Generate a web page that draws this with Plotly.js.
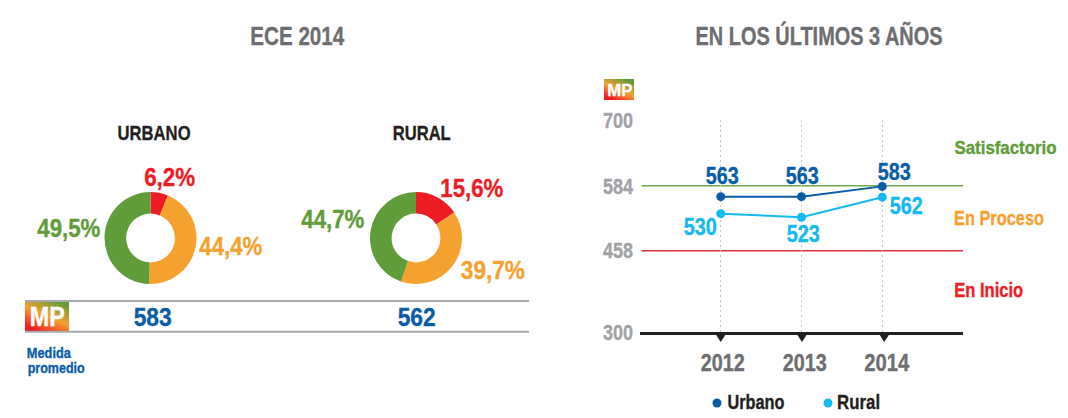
<!DOCTYPE html>
<html><head><meta charset="utf-8">
<script src="https://cdn.plot.ly/plotly-3.0.1.min.js"></script>
<style>html,body{margin:0;padding:0;background:#fff}</style></head>
<body><div id="chart" style="width:1068px;height:418px"></div>
<script>
const levels = ['En Inicio','En Proceso','Satisfactorio'];
const urbanoShare = [6.2,44.4,49.5];
const ruralShare = [15.6,39.7,44.7];
const levelColors = ['#ed1c24','#f5a130','#619c3a'];
const years = [2012,2013,2014];
const urbanoMP = [563,563,583];
const ruralMP = [530,523,562];
const yTickVals = [300,458,584,712];
const yTickText = ['300','458','584','700'];
const W=1068,H=418;
const FONT='"Liberation Sans",sans-serif';
const BLUE='#0a5ca8',CYAN='#13b9f0',GREY='#6d6e71';
const px=x=>x/W, py=y=>1-y/H;
const GRAD='data:image/svg+xml;utf8,'+encodeURIComponent('<svg xmlns="http://www.w3.org/2000/svg" width="44" height="30" preserveAspectRatio="none"><defs><linearGradient id="g" x1="0.2" y1="1" x2="0.8" y2="0"><stop offset="0.05" stop-color="#ed1c24"/><stop offset="0.5" stop-color="#f5a130"/><stop offset="0.95" stop-color="#619c3a"/></linearGradient></defs><rect width="44" height="30" fill="url(#g)"/></svg>');
const fitW=[];
function t(text,x,y,size,color,w){fitW.push(w);return {text:String(text),xref:'paper',yref:'paper',x:px(x),y:py(y),xanchor:'center',yanchor:'middle',showarrow:false,font:{family:FONT,size:size,color:color,weight:700}};}
function pointAnn(x,y,c,xs,ys){fitW.push(33);return {text:String(y),x:x,y:y,xref:'x',yref:'y',xshift:xs,yshift:ys,showarrow:false,font:{family:FONT,size:23,color:c,weight:700}};}
function pie(vals,cx,cy,r){return {type:'pie',values:vals,labels:levels,marker:{colors:levelColors},sort:false,direction:'clockwise',rotation:0,hole:0.53,textinfo:'none',showlegend:false,hoverinfo:'label+value',
  domain:{x:[px(cx-r),px(cx+r)],y:[py(cy+r),py(cy-r)]}};}
const pct=v=>v.toFixed(1).replace('.',',')+'%';
const traces=[
 pie(urbanoShare,150.5,238,46),
 pie(ruralShare,416,238,46),
 {type:'scatter',mode:'lines+markers',x:years,y:urbanoMP,name:'Urbano',line:{color:BLUE,width:2},marker:{color:BLUE,size:9},showlegend:false},
 {type:'scatter',mode:'lines+markers',x:years,y:ruralMP,name:'Rural',line:{color:CYAN,width:2},marker:{color:CYAN,size:9},showlegend:false}
];
const ann=[
 t('ECE 2014',297,36,26,GREY,94),
 t('EN LOS ÚLTIMOS 3 AÑOS',818.5,36,26,GREY,247),
 t('URBANO',153.5,132,21,'#231f20',73),
 t('RURAL',422,132,21,'#231f20',58),
 t(pct(urbanoShare[0]),169.5,177,26,levelColors[0],51),
 t(pct(urbanoShare[1]),230.5,246,26,levelColors[1],63),
 t(pct(urbanoShare[2]),68.5,228,26,levelColors[2],63),
 t(pct(ruralShare[0]),471.5,188,26,levelColors[0],63),
 t(pct(ruralShare[1]),493,270,26,levelColors[1],64),
 t(pct(ruralShare[2]),332.5,219,26,levelColors[2],63),
 t('583',152,317,26,BLUE,38),
 t('562',416,317,26,BLUE,38),
 t('MP',47,316.5,27,'#ffffff',35),
 t('Medida',49,352,15,BLUE,44),
 t('promedio',55.5,367,15,BLUE,57),
 t('MP',619.5,90,17,'#ffffff',25),
 t('Satisfactorio',1005,148,18,levelColors[2],102),
 t('En Proceso',999,218,20,levelColors[1],90),
 t('En Inicio',988.5,290,20,levelColors[0],69),
 t('2012',722,362,24,GREY,44),
 t('2013',804,362,24,GREY,44),
 t('2014',886.5,362,24,GREY,45),
 pointAnn(2012,563,BLUE,1,20.7),
 pointAnn(2013,563,BLUE,0.5,20.7),
 pointAnn(2014,583,BLUE,11.75,14.4),
 pointAnn(2012,530,CYAN,-20.75,-13.3),
 pointAnn(2013,523,CYAN,1.2,-16.4),
 pointAnn(2014,562,CYAN,23.5,-8.5),
 t('Urbano',755.5,402,20,'#231f20',57),
 t('Rural',858.5,402,20,'#231f20',43)
];
const line=(x0,x1,y,c,w)=>({type:'line',xref:'paper',yref:'paper',x0:px(x0),x1:px(x1),y0:py(y),y1:py(y),line:{color:c,width:w}});
const hl=(v,c)=>({type:'line',xref:'x',yref:'y',x0:2011.02,x1:2015,y0:v,y1:v,line:{color:c,width:1.5},layer:'below'});
const dot=(cx,cy,c)=>({type:'circle',xref:'paper',yref:'paper',x0:px(cx-4.5),x1:px(cx+4.5),y0:py(cy+4.5),y1:py(cy-4.5),fillcolor:c,line:{width:0}});
const tri=(yr,dx)=>({type:'path',xref:'x',yref:'paper',xsizemode:'pixel',ysizemode:'pixel',xanchor:yr,yanchor:py(332),path:`M${dx-6.5},0 L${dx+6.5},0 L${dx},-10 Z`,fillcolor:'#231f20',line:{width:0}});
const layout={width:W,height:H,autosize:false,margin:{l:0,r:0,t:0,b:0},paper_bgcolor:'#fff',plot_bgcolor:'#fff',showlegend:false,
 xaxis:{domain:[px(640),px(963)],range:[2011,2015],tickvals:years,showticklabels:false,ticks:'',showgrid:true,griddash:'2px,3px',gridcolor:'#c4c4c4',gridwidth:1,zeroline:false,showline:true,linecolor:'#231f20',linewidth:3},
 yaxis:{domain:[py(332),py(120)],range:[300,712],tickvals:yTickVals,ticktext:yTickText,showgrid:false,zeroline:false,showline:false,ticks:'',ticklabelstandoff:6,tickfont:{family:FONT,size:22,color:'#a0a2a5',weight:700}},
 shapes:[hl(584,'#6ea84e'),hl(458,'#d8303a'),line(25,529,301,'#a7a9ac',2),line(25,529,331.7,'#a7a9ac',2),dot(717,403,BLUE),dot(828,403,CYAN),tri(2012,0),tri(2013,0.5),tri(2014,2)],
 images:[
  {source:GRAD,xref:'paper',yref:'paper',x:px(25),y:py(300),sizex:44/W,sizey:32/H,sizing:'stretch',xanchor:'left',yanchor:'top',layer:'above'},
  {source:GRAD,xref:'paper',yref:'paper',x:px(604),y:py(79),sizex:30/W,sizey:21/H,sizing:'stretch',xanchor:'left',yanchor:'top',layer:'above'}
 ],
 annotations:ann};
function squeeze(el,w){el.setAttribute('textLength',w);el.setAttribute('lengthAdjust','spacingAndGlyphs');
 const c=el.style.fill;if(c){el.style.stroke=c;el.style.strokeWidth='0.35px';}}
Plotly.newPlot('chart',traces,layout,{displayModeBar:false,staticPlot:true}).then(gd=>{
 gd.querySelectorAll('g.annotation').forEach(g=>{
  const i=+g.getAttribute('data-index');const el=g.querySelector('text');
  if(el&&fitW[i])squeeze(el,fitW[i]);
 });
 gd.querySelectorAll('.ytick text').forEach(el=>squeeze(el,30));
});
</script></body></html>
